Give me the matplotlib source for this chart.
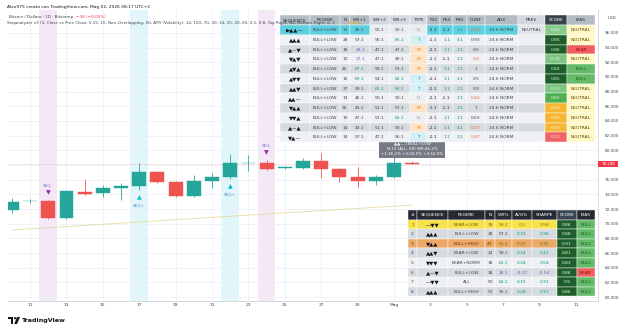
import numpy as np
import pandas as pd
import matplotlib.pyplot as plt
import matplotlib.dates as mdates
from matplotlib.patches import Rectangle, Circle, Polygon
from matplotlib.ticker import FuncFormatter, FixedLocator

plt.rcParams['font.family'] = ['DejaVu Sans']

# ---- price data (BTC/USD daily) ----
dates = pd.date_range('2026-04-10', '2026-05-02', freq='D')
opens = [71860, 73090, 73050, 70770, 74320, 74180, 74860, 75140, 77050, 75680, 73770, 75820,
         76360, 78270, 78270, 77590, 77590, 78550, 77450, 76360, 75820, 76360, 78234]
closes = [72950, 73150, 70770, 74450, 74100, 74860, 75140, 77050, 75680, 73770, 75820, 76360,
          78270, 78300, 77450, 77700, 78550, 77450, 76360, 75820, 76360, 78270, 78198]
highs = [73500, 73360, 73200, 74600, 76090, 75270, 75550, 78270, 77200, 75800, 76640, 76900,
         79500, 79360, 78680, 77800, 78950, 79640, 77600, 77770, 76640, 79640, 78500]
lows = [71450, 72820, 70640, 70700, 73950, 73640, 73230, 74590, 75600, 73700, 73700, 74860,
        76090, 77180, 77300, 77450, 77450, 76230, 75680, 75000, 75270, 76230, 78100]
ma_values = [69130, 69290, 69450, 69600, 69760, 69920, 70080, 70240, 70390, 70550, 70700, 70860,
             71010, 71170, 71320, 71470, 71620, 71780, 71930, 72080, 72230, 72380, 72530]
last_price = 78198
price_ticks = [60000, 62000, 64000, 66000, 68000, 70000, 72000, 74000, 76000, 78000,
               80000, 82000, 84000, 86000, 88000, 90000, 92000, 94000, 96000]

seq_minus_days = ['2026-04-12', '2026-04-24']
seq_plus_days = ['2026-04-17', '2026-04-22']

# ---- top table ----
top_cols = ['SEQUENCE', 'REGIME', 'N', 'WR+1', 'WR+2', 'WR+3', 'TYPE', 'P10', 'P50', 'P90',
            'CONF', 'ADX', 'PREV', 'SCORE', 'BIAS']
top_seq = ['▶▲▲—', '▲▲▲', '▲—▼', '▼▲▼', '▲▼▲', '▲▼▼', '▲▲▼', '▲▲—', '▼▲▲', '▼▼▲', '▲—▲', '▼▲—']
top_regime = ['BULL+LOW'] * 12
top_n = [13, 28, 18, 12, 45, 15, 27, 13, 35, 19, 14, 14]
top_wr1 = [46.1, 57.1, 28.1, 17.1, 67.1, 60.1, 59.1, 46.1, 43.1, 47.1, 43.1, 57.1]
top_wr2 = [50.1, 56.1, 47.1, 47.1, 59.1, 54.1, 65.1, 50.1, 51.1, 57.1, 51.1, 47.1]
top_wr3 = [50.1, 65.1, 47.1, 49.1, 53.1, 62.1, 64.1, 50.1, 57.1, 62.1, 58.1, 56.1]
top_type = ['U', 'T', 'M', 'M', 'M', 'T', 'T', 'U', 'M', 'U', 'M', 'T']
top_p10 = [-2.1, -1.1, -2.1, -2.1, -2.1, -2.1, -2.1, -2.1, -1.1, -2.1, -2.1, -2.1]
top_p50 = [-1.1, 1.1, 1.1, -1.1, 1.1, 1.1, 1.1, -1.1, -1.1, 1.1, 1.1, 1.1]
top_p90 = [2.1, 4.1, 2.1, 2.1, 2.1, 2.1, 2.1, 2.1, 2.1, 1.1, 4.1, 2.1]
top_conf = [0.43, 0.93, 0.6, 0.4, 1, 0.5, 0.9, 0.43, 1, 0.63, 0.47, 0.47]
top_adx = ['24.6 NORM'] * 12
top_prev = ['NEUTRAL'] + [''] * 11
top_score = [0.65, 0.88, 0.86, 0.78, 0.84, 0.85, 0.75, 0.65, 0.52, 0.49, 0.44, 0.31]
top_bias = ['NEUTRAL', 'NEUTRAL', 'BEAR', 'NEUTRAL', 'BULL', 'BULL', 'NEUTRAL', 'NEUTRAL',
            'NEUTRAL', 'NEUTRAL', 'NEUTRAL', 'NEUTRAL']

# ---- bottom table ----
bot_cols = ['#', 'SEQUENCE', 'REGIME', 'N', 'WR%', 'AVG%', 'SHARPE', 'SCORE', 'BIAS']
bot_seq = ['—▼▼', '▲▲▲', '▼▲▲', '▲▲▼', '▼▼▼', '▲—▼', '—▼▼', '▲▲▲']
bot_regime = ['BEAR+LOW', 'BULL+LOW', 'BULL+HIGH', 'BEAR+LOW', 'BEAR+NORM', 'BULL+LOW', 'ALL', 'BULL+HIGH']
bot_n = [19, 28, 41, 24, 18, 18, 50, 57]
bot_wr = [58.1, 57.1, 61.1, 58.1, 61.1, 28.1, 62.1, 56.1]
bot_avg = [0.2, 0.33, 0.25, 0.24, 0.34, -0.27, 0.15, 0.28]
bot_sharpe = [0.58, 0.38, 0.35, 0.42, 0.54, -0.54, 0.31, 0.31]
bot_score = [0.86, 0.88, 0.91, 0.81, 0.83, 0.86, 0.9, 0.86]
bot_bias = ['BULL', 'BULL', 'BULL', 'BULL', 'BULL', 'BEAR', 'BULL', 'BULL']

W, H = 633, 331
fig = plt.figure(figsize=(W / 100, H / 100), dpi=100)
fig.patch.set_facecolor('white')

# main price axes (pixel box: x 8..598, y 10..301)
ax = fig.add_axes([8 / W, 30 / H, 590 / W, 291 / H])
x = mdates.date2num(dates)
d0 = mdates.date2num(pd.Timestamp('2026-04-11'))
ax.set_xlim(d0 - 1.21, d0 + 31.21)
ax.set_ylim(59455, 99136)

ticks = mdates.date2num(pd.date_range('2026-04-11', '2026-05-11', freq='2D'))
ax.set_xticks(ticks)
ax.xaxis.set_major_formatter(FuncFormatter(
    lambda v, p: 'Mag' if mdates.num2date(v).day == 1 else str(mdates.num2date(v).day)))
ax.yaxis.tick_right()
ax.yaxis.set_major_locator(FixedLocator(price_ticks))
# the last-price badge covers the 78.000 label
ax.yaxis.set_major_formatter(FuncFormatter(
    lambda v, p: '' if abs(v - last_price) < 1000 else f'{v:,.0f}'.replace(',', '.')))
ax.tick_params(axis='x', length=0, labelsize=3.2, colors='#434651', pad=1.5)
ax.tick_params(axis='y', length=0, labelsize=3.0, colors='#434651', pad=5)
ax.grid(True, color='#eef0f4', lw=0.6)
ax.set_axisbelow(True)
for s in ['top', 'left']:
    ax.spines[s].set_visible(False)
for s in ['bottom', 'right']:
    ax.spines[s].set_color('#d1d4dc')
    ax.spines[s].set_linewidth(0.6)

# signal background bands
for d in seq_minus_days:
    c = mdates.date2num(pd.Timestamp(d))
    ax.axvspan(c - 0.48, c + 0.48, color='#f4e8f6', lw=0, zorder=0.5)
for d in seq_plus_days:
    c = mdates.date2num(pd.Timestamp(d))
    ax.axvspan(c - 0.48, c + 0.48, color='#e0f6fa', lw=0, zorder=0.5)

# moving average line
ax.plot(x, ma_values, color='#e6dca0', lw=0.6, zorder=2)

# last price dotted line
ax.axhline(last_price, color='#e9a3a3', ls=(0, (1, 1.5)), lw=0.5, zorder=1)

# candles
up_c, dn_c = '#26a69a', '#ef5350'
for xi, o, h, l, c in zip(x, opens, highs, lows, closes):
    col = up_c if c >= o else dn_c
    ax.vlines(xi, l, h, color=col, lw=0.6, zorder=3)
    bottom = min(o, c)
    height = max(abs(c - o), 60)
    ax.add_patch(Rectangle((xi - 0.38, bottom), 0.76, height, facecolor=col, edgecolor=col,
                           lw=0.3, zorder=4))

# SEQ markers
for d in seq_minus_days:
    i = list(dates).index(pd.Timestamp(d))
    ax.annotate('▼', (x[i], highs[i]), xytext=(0, 5.3), textcoords='offset points',
                ha='center', va='center', fontsize=4.5, color='#9c27b0', zorder=6)
    ax.annotate('SEQ-', (x[i], highs[i]), xytext=(0, 10.5), textcoords='offset points',
                ha='center', va='center', fontsize=3, color='#7b6fcf', zorder=6)
for d in seq_plus_days:
    i = list(dates).index(pd.Timestamp(d))
    ax.annotate('▲', (x[i], lows[i]), xytext=(0, -5.3), textcoords='offset points',
                ha='center', va='center', fontsize=4.5, color='#00bcd4', zorder=6)
    ax.annotate('SEQ+', (x[i], lows[i]), xytext=(0, -11.5), textcoords='offset points',
                ha='center', va='center', fontsize=3, color='#4a8fc4', zorder=6)

# tooltip over last bar
ax.annotate('▲▲— | BULL+LOW\nN:13 (ALL: 69) WR:46.2%\n+1:46.2% +2:50.0% +3:50.0%',
            (x[-1], highs[-1]), xytext=(0, 4), textcoords='offset points',
            ha='center', va='bottom', fontsize=2.9, color='white', linespacing=1.35,
            bbox=dict(boxstyle='square,pad=0.5', fc='#767983', ec='none'), zorder=7)

# ---- overlay in pixel coordinates ----
ov = fig.add_axes([0, 0, 1, 1], zorder=5)
ov.set_xlim(0, W)
ov.set_ylim(H, 0)
ov.axis('off')
ov.patch.set_alpha(0)

FS = 3.2


def cell(x0, x1, y0, y1, fc, text='', tc='#2a2e39', bold=False, fs=FS):
    ov.add_patch(Rectangle((x0, y0), x1 - x0, y1 - y0, facecolor=fc, edgecolor='white', lw=0.3))
    if text != '':
        ov.text((x0 + x1) / 2, (y0 + y1) / 2 + 0.2, text, ha='center', va='center', fontsize=fs,
                color=tc, fontweight='bold' if bold else 'normal')


def wr_col(v):
    if v >= 60:
        return '#089981'
    if v < 35:
        return '#7e57c2'
    return '#434651'


def score_style(v):
    if v >= 0.8:
        return '#1e5e2a', '#cfe8d0'
    if v >= 0.7:
        return '#7cc47f', '#eef8ee'
    if v >= 0.6:
        return '#4caf50', '#eef8ee'
    if v >= 0.4:
        return '#f6b533', '#fff4d6'
    return '#ef6464', '#ffe3e3'


bias_style = {'NEUTRAL': ('#fff8c4', '#5d4b0a'), 'BULL': ('#66bb6a', '#1b5e20'),
              'BEAR': ('#ef5f5f', '#8b1010')}

# top table
tx = [280, 310, 340, 350, 370, 390, 410, 427, 440, 453, 467, 485, 518, 545, 567, 595]
ty0, thh, trh = 15, 10, 9.76
light_hdr = {'WR+2', 'WR+3', 'TYPE', 'PREV'}
for j, name in enumerate(top_cols):
    if name == 'SCORE':
        fc, tc = '#37424d', 'white'
    elif name in light_hdr:
        fc, tc = '#d3d8de', '#2a2e39'
    else:
        fc, tc = '#b3bbc4', '#2a2e39'
    cell(tx[j], tx[j + 1], ty0, ty0 + thh, fc, name, tc)

for i in range(12):
    y0 = ty0 + thh + i * trh
    y1 = y0 + trh
    base = '#eef0f3' if i % 2 == 1 else '#d6dbe0'
    if i == 0:
        base = '#e9edf0'
    hi = '#5dd0df' if i == 0 else base
    vals = [
        (top_seq[i], '#131722', hi),
        (top_regime[i], '#434651', hi),
        (str(top_n[i]), '#434651', hi),
        (f'{top_wr1[i]}', wr_col(top_wr1[i]), hi),
        (f'{top_wr2[i]}', wr_col(top_wr2[i]), base),
        (f'{top_wr3[i]}', wr_col(top_wr3[i]), base),
    ]
    t = top_type[i]
    if t == 'T':
        vals.append((t, '#089981', '#d5eff4'))
    elif t == 'M':
        vals.append((t, '#f57c00', '#fde4c8'))
    else:
        vals.append((t, '#787b86', base))
    for p in (top_p10[i], top_p50[i], top_p90[i]):
        vals.append((f'{p}', '#089981' if p > 0 else '#2a2e39', hi))
    vals.append((f'{top_conf[i]:g}', '#f0663a' if top_conf[i] < 0.5 else '#434651', hi))
    vals.append((top_adx[i], '#434651', hi))
    vals.append((top_prev[i], '#434651', '#e2e5e9' if i == 0 else base))
    sfc, stc = score_style(top_score[i])
    if i == 0:
        sfc = '#86cb89'
    vals.append((f'{top_score[i]:g}', stc, sfc))
    bfc, btc = bias_style[top_bias[i]]
    vals.append((top_bias[i], btc, bfc))
    for j, (txt, tc, fc) in enumerate(vals):
        cell(tx[j], tx[j + 1], y0, y1, fc, txt, tc, fs=3.9 if j == 0 else FS)

# bottom table
bx = [408, 417, 448, 485, 495, 512, 532, 557, 577, 595]
by0, bhh, brh = 210, 9.5, 9.6
for j, name in enumerate(bot_cols):
    fc = '#3a4651' if name == 'SCORE' else '#262a33'
    cell(bx[j], bx[j + 1], by0, by0 + bhh, fc, name, 'white')

for i in range(8):
    y0 = by0 + bhh + i * brh
    y1 = y0 + brh
    if i == 0:
        base, dflt = '#f8e24a', '#6b5a00'
    elif i == 2:
        base, dflt = '#eea866', '#5b3a10'
    else:
        base, dflt = ('#d6dbe0' if i % 2 == 1 else '#eef0f3'), '#434651'

    def nc(v):
        if i in (0, 2):
            return '#8a6d00' if i == 0 else '#4a7a20'
        if v < 0:
            return '#7e57c2'
        return '#089981'

    row = [
        (str(i + 1), dflt, base),
        (bot_seq[i], '#131722', base),
        (bot_regime[i], dflt, base),
        (str(bot_n[i]), dflt, base),
        (f'{bot_wr[i]}', wr_col(bot_wr[i]) if i not in (0, 2) else nc(1), base),
        (f'{bot_avg[i]:g}', nc(bot_avg[i]), base),
        (f'{bot_sharpe[i]:g}', nc(bot_sharpe[i]), base),
        (f'{bot_score[i]:g}', '#e8f5e9', '#1e5e2a'),
    ]
    bfc, btc = bias_style[bot_bias[i]]
    row.append((bot_bias[i], btc, bfc))
    for j, (txt, tc, fc) in enumerate(row):
        cell(bx[j], bx[j + 1], y0, y1, fc, txt, tc, fs=3.9 if j == 1 else FS)

# chart legend / header text
ov.text(7, 7, 'Alex975 creato con TradingView.com, Mag 02, 2026 08:17 UTC+2', fontsize=3.2,
        color='#131722', va='center')
ov.text(9, 16.7, 'Bitcoin / Dollaro · 1D · Bitstamp', fontsize=3.0, color='#434651', va='center')
ov.text(76, 16.7, '−36 (−0,05%)', fontsize=3.0, color='#f23645', va='center')
ov.text(7, 23.3, 'Seqanalyzer v3 (3, Close vs Prev Close, 0.15, 10, Non-Overlapping, 50, ATR (Volatility), '
        '14, 100, 70, 30, 14, 25, 20, 60, 0.1, 0.8, Top Right, No, Bottom Right, 8, 2',
        fontsize=3.0, color='#434651', va='center', zorder=10)
ov.text(347, 23.3, '72.528', fontsize=3.0, color='#e0a400', va='center', zorder=10)

# price scale extras
ov.text(612, 18, 'USD', fontsize=3.0, color='#434651', ha='center', va='center')
ov.add_patch(Rectangle((598, 160.5), 20, 6.5, facecolor='#f23645', edgecolor='none'))
ov.text(608, 163.9, f'{last_price:,}'.replace(',', '.'), fontsize=2.9, color='white',
        ha='center', va='center')

# TradingView logo
ov.add_patch(Rectangle((8, 317), 5, 2.2, facecolor='#131722', edgecolor='none'))
ov.add_patch(Rectangle((10.6, 317), 2.4, 7, facecolor='#131722', edgecolor='none'))
ov.add_patch(Circle((15, 318.2), 1.1, facecolor='#131722', edgecolor='none'))
ov.add_patch(Polygon([(17, 317), (20, 317), (17, 324), (14.2, 324)], closed=True,
                     facecolor='#131722', edgecolor='none'))
ov.text(21.5, 320.6, 'TradingView', fontsize=4.6, fontweight='bold', color='#131722', va='center')

fig.savefig('out.png', dpi=100)
